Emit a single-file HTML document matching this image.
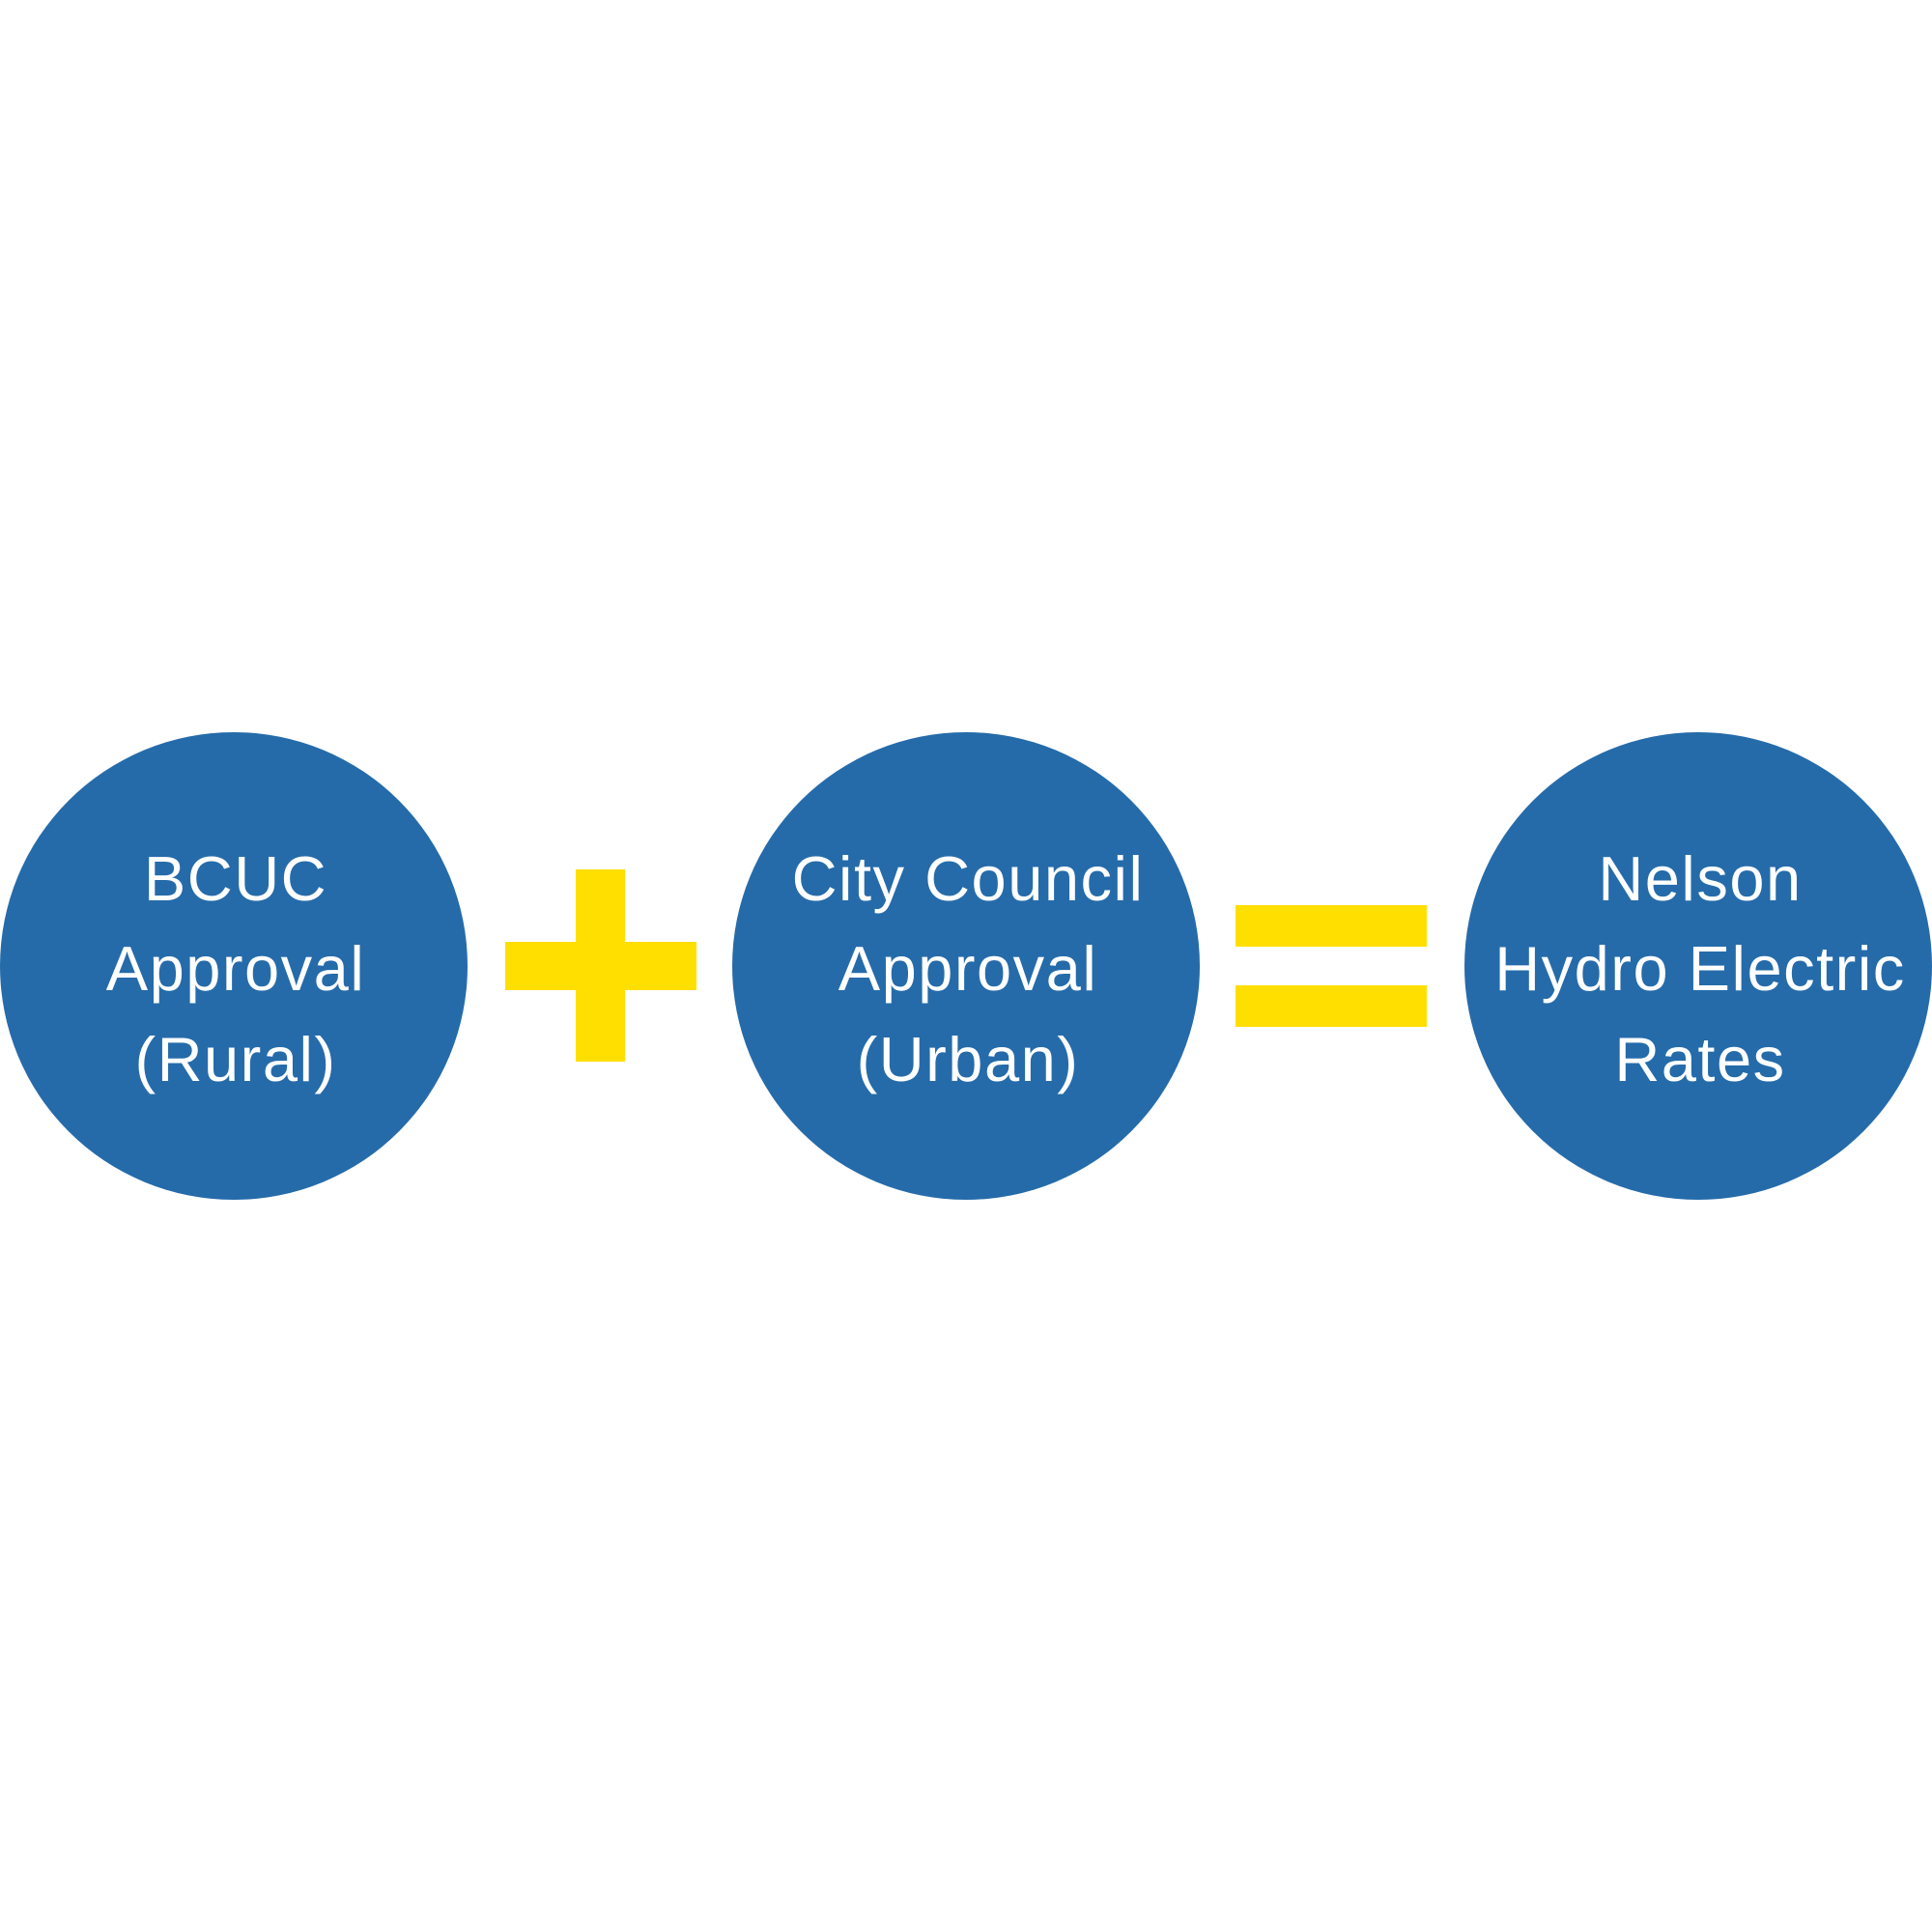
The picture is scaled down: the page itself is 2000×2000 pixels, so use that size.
<!DOCTYPE html>
<html><head><meta charset="utf-8"><style>
html,body{margin:0;padding:0;background:#fff;}
svg{display:block;}
text{font-family:"Liberation Sans",sans-serif;font-size:65px;fill:#fff;letter-spacing:1.5px;}
</style></head><body>
<svg width="2000" height="2000" viewBox="0 0 2000 2000" xmlns="http://www.w3.org/2000/svg">
<rect width="2000" height="2000" fill="#fff"/>
<circle cx="242" cy="1000" r="242" fill="#256BAA"/>
<circle cx="1000" cy="1000" r="242" fill="#256BAA"/>
<circle cx="1758" cy="1000" r="242" fill="#256BAA"/>
<rect x="596" y="900" width="51" height="199" fill="#FFDF00"/>
<rect x="523" y="975" width="198" height="50" fill="#FFDF00"/>
<rect x="1279" y="937" width="198" height="43" fill="#FFDF00"/>
<rect x="1279" y="1020" width="198" height="43" fill="#FFDF00"/>
<g text-anchor="middle">
<text x="244" y="932">BCUC</text>
<text x="244" y="1025">Approval</text>
<text x="244" y="1119">(Rural)</text>
<text x="1002" y="932">City Council</text>
<text x="1002" y="1025">Approval</text>
<text x="1002" y="1119">(Urban)</text>
<text x="1760" y="932">Nelson</text>
<text x="1760" y="1025">Hydro Electric</text>
<text x="1760" y="1119">Rates</text>
</g>
</svg>
</body></html>
